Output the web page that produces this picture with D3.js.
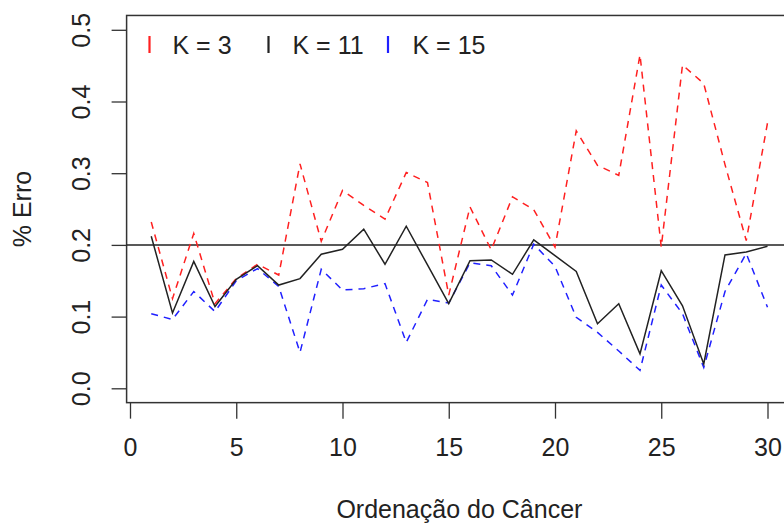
<!DOCTYPE html>
<html>
  <head>
    <meta charset="utf-8">
    <script type="text/javascript" src="https://cdn.jsdelivr.net/npm/d3@7"></script>
    <style type="text/css">
      body {
        margin: 0;
        background: #ffffff;
      }
      svg text {
        font-family: "Liberation Sans", Arial, sans-serif;
        fill: #222222;
      }
    </style>
  </head>
  <body>
    <script type="text/javascript">
      // cancer order on the x axis (1..30)
      var ordem = [1, 2, 3, 4, 5, 6, 7, 8, 9, 10, 11, 12, 13, 14, 15,
                   16, 17, 18, 19, 20, 21, 22, 23, 24, 25, 26, 27, 28, 29, 30];

      // error rate for each K
      var erroK3 = [0.232, 0.125, 0.216, 0.118, 0.153, 0.173, 0.158, 0.313, 0.205, 0.276,
                    0.255, 0.236, 0.301, 0.287, 0.130, 0.253, 0.193, 0.267, 0.249, 0.197,
                    0.359, 0.311, 0.297, 0.465, 0.197, 0.451, 0.425, 0.312, 0.206, 0.370];
      var erroK11 = [0.212, 0.105, 0.177, 0.114, 0.152, 0.171, 0.144, 0.153, 0.187, 0.194,
                     0.222, 0.173, 0.226, 0.172, 0.118, 0.178, 0.179, 0.159, 0.207, 0.185,
                     0.163, 0.090, 0.118, 0.048, 0.164, 0.115, 0.034, 0.186, 0.190, 0.198];
      var erroK15 = [0.104, 0.096, 0.135, 0.107, 0.150, 0.167, 0.142, 0.050, 0.166, 0.137,
                     0.139, 0.146, 0.064, 0.124, 0.119, 0.175, 0.171, 0.130, 0.201, 0.170,
                     0.099, 0.078, 0.052, 0.025, 0.144, 0.104, 0.029, 0.135, 0.188, 0.113];

      // legend labels and colours
      var nomes = ["K = 3", "K = 11", "K = 15"];
      var cores = ["#ff2020", "#222222", "#2020ff"];

      // tick labels
      var xTicks = [0, 5, 10, 15, 20, 25, 30];
      var yTicks = [0.0, 0.1, 0.2, 0.3, 0.4, 0.5];
      var linhaRef = 0.2;

      var width = 784;
      var height = 523;
      var fonte = "25px";

      var svg = d3.select("body")
        .append("svg")
        .attr("width", width)
        .attr("height", height);

      // scales (R style: box is 4% wider than the data range)
      var xScale = d3.scaleLinear()
        .domain([0, 30])
        .range([130, 767.5]);

      var yScale = d3.scaleLinear()
        .domain([0, 0.5])
        .range([388.3, 29.8]);

      var boxLeft = xScale(-0.16);
      var boxRight = xScale(31.16);
      var boxTop = yScale(0.52);
      var boxBottom = yScale(-0.02);

      svg.append("clipPath")
        .attr("id", "plotClip")
        .append("rect")
        .attr("x", boxLeft)
        .attr("y", boxTop)
        .attr("width", boxRight - boxLeft)
        .attr("height", boxBottom - boxTop);

      // x axis
      var xAxis = svg.append("g")
        .attr("transform", "translate(0," + boxBottom + ")")
        .call(d3.axisBottom(xScale).tickValues(xTicks).tickSize(16).tickPadding(20).tickFormat(d3.format("d")));
      xAxis.select(".domain").remove();
      xAxis.selectAll("line").attr("stroke", "#333").attr("stroke-width", 1.3);
      xAxis.selectAll("text")
        .style("font-size", fonte)
        .style("font-family", "Liberation Sans, Arial, sans-serif")
        .attr("fill", "#222");

      // y axis (labels rotated like R)
      var yAxis = svg.append("g")
        .attr("transform", "translate(" + boxLeft + ",0)")
        .call(d3.axisLeft(yScale).tickValues(yTicks).tickSize(15).tickFormat(d3.format(".1f")));
      yAxis.select(".domain").remove();
      yAxis.selectAll("line").attr("stroke", "#333").attr("stroke-width", 1.3);
      yAxis.selectAll("text")
        .attr("x", null)
        .attr("dy", null)
        .attr("text-anchor", "middle")
        .attr("dominant-baseline", "central")
        .attr("transform", function(d) {
          return "translate(" + (81 - boxLeft) + ",0) rotate(-90)";
        })
        .style("font-size", fonte)
        .style("font-family", "Liberation Sans, Arial, sans-serif")
        .attr("fill", "#222");

      // plot box
      svg.append("rect")
        .attr("x", boxLeft)
        .attr("y", boxTop)
        .attr("width", boxRight - boxLeft)
        .attr("height", boxBottom - boxTop)
        .attr("fill", "none")
        .attr("stroke", "#333")
        .attr("stroke-width", 1.5);

      // reference line at 0.2
      svg.append("line")
        .attr("x1", boxLeft)
        .attr("x2", boxRight)
        .attr("y1", yScale(linhaRef))
        .attr("y2", yScale(linhaRef))
        .attr("stroke", "#222")
        .attr("stroke-width", 1.5);

      var linha = function(valores) {
        return d3.line()
          .x(function(d, i) { return xScale(ordem[i]); })
          .y(function(d) { return yScale(d); })(valores);
      };

      var plot = svg.append("g").attr("clip-path", "url(#plotClip)");

      // K = 3 dashed red
      plot.append("path")
        .attr("d", linha(erroK3))
        .attr("fill", "none")
        .attr("stroke", cores[0])
        .attr("stroke-width", 1.5)
        .attr("stroke-dasharray", "7,6");

      // K = 15 dashed blue
      plot.append("path")
        .attr("d", linha(erroK15))
        .attr("fill", "none")
        .attr("stroke", cores[2])
        .attr("stroke-width", 1.5)
        .attr("stroke-dasharray", "7,6");

      // K = 11 solid black
      plot.append("path")
        .attr("d", linha(erroK11))
        .attr("fill", "none")
        .attr("stroke", cores[1])
        .attr("stroke-width", 1.5);

      // legend
      var legendBarX = [149.5, 268.5, 388];
      var legendTextX = [172.5, 292.5, 412.5];
      var legenda = svg.append("g");
      nomes.forEach(function(nome, i) {
        legenda.append("line")
          .attr("x1", legendBarX[i])
          .attr("x2", legendBarX[i])
          .attr("y1", 36)
          .attr("y2", 53)
          .attr("stroke", cores[i])
          .attr("stroke-width", 2.2);
        legenda.append("text")
          .attr("x", legendTextX[i])
          .attr("y", 53.5)
          .style("font-size", fonte)
          .text(nome);
      });

      // axis titles
      svg.append("text")
        .attr("x", (boxLeft + boxRight) / 2)
        .attr("y", 518)
        .attr("text-anchor", "middle")
        .style("font-size", fonte)
        .text("Ordenação do Câncer");

      svg.append("text")
        .attr("text-anchor", "middle")
        .attr("dominant-baseline", "central")
        .attr("transform", "translate(22," + ((boxTop + boxBottom) / 2) + ") rotate(-90)")
        .style("font-size", fonte)
        .text("% Erro");
    </script>
  </body>
</html>
